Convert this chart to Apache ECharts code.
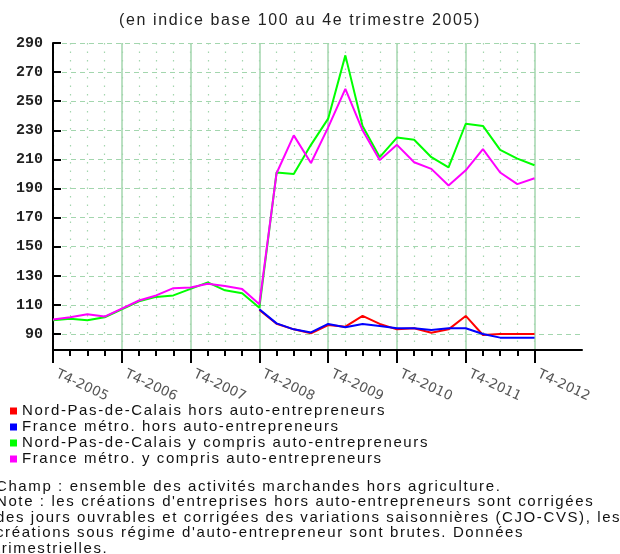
<!DOCTYPE html>
<html><head><meta charset="utf-8">
<script src="https://cdn.jsdelivr.net/npm/echarts@6/dist/echarts.min.js"></script>
<style>html,body{margin:0;padding:0;background:#fff}#c{width:620px;height:554px}</style>
</head><body><div id="c"></div>
<script>
const quarters = ['T4-2005','T1-2006','T2-2006','T3-2006','T4-2006','T1-2007','T2-2007','T3-2007','T4-2007',
  'T1-2008','T2-2008','T3-2008','T4-2008','T1-2009','T2-2009','T3-2009','T4-2009','T1-2010','T2-2010','T3-2010',
  'T4-2010','T1-2011','T2-2011','T3-2011','T4-2011','T1-2012','T2-2012','T3-2012','T4-2012'];
const yTickValues = [90,110,130,150,170,190,210,230,250,270,290];
const seriesNames = ['Nord-Pas-de-Calais hors auto-entrepreneurs','France métro. hors auto-entrepreneurs',
  'Nord-Pas-de-Calais y compris auto-entrepreneurs','France métro. y compris auto-entrepreneurs'];
const npdcHors = [null,null,null,null,null,null,null,null,null,null,null,null,
  106.5,97,93.2,90.5,96.2,95,102.4,96.9,93.2,93.9,90.9,93.2,102.4,89.3,90,90,90];
const franceHors = [null,null,null,null,null,null,null,null,null,null,null,null,
  107,97.3,93.2,91.1,96.9,94.6,96.9,95.5,93.9,93.9,92.7,93.9,93.9,90,87.5,87.5,87.5];
const npdcAvec = [99.5,100.5,99.5,101.5,107,112.5,115.5,116.5,121,125.5,120,118,
  108,201,200,220,238,281.5,233,211.5,225,223.5,211.5,204.5,234.5,233,216.5,210.5,206];
const franceAvec = [100,101.5,103.5,102,107.5,113,116.5,121.5,122,124.5,123,121,
  110.5,200.5,226.5,207.5,232,258.5,230,209.5,220,208,203.5,192,202.5,217,201,193,197];
const colors = ['#ff0000','#0000ff','#00ff00','#ff00ff'];
const titleText = '(en indice base 100 au 4e trimestre 2005)';
const noteText = 'Champ : ensemble des activités marchandes hors agriculture.\nNote : les créations d\'entreprises hors auto-entrepreneurs sont corrigées\ndes jours ouvrables et corrigées des variations saisonnières (CJO-CVS), les\ncréations sous régime d\'auto-entrepreneur sont brutes. Données\ntrimestrielles.';

// widely spaced text, as in the reference (applied to the "Liberation Sans" texts only)
(function(){
  const proto = CanvasRenderingContext2D.prototype;
  const orig = proto.fillText;
  proto.fillText = function(t,x,y,m){
    if ('letterSpacing' in this) this.letterSpacing = /Liberation Sans/.test(this.font) ? '1.6px' : '0px';
    return m === undefined ? orig.call(this,t,x,y) : orig.call(this,t,x,y,m);
  };
})();

const quarterIdx = quarters.map((q,i)=>i);
const yearIdx = quarterIdx.filter(i=>i%4===0);
const xMax = 30.76;

const chart = echarts.init(document.getElementById('c'), null, {renderer:'canvas'});
const mk = arr => arr.map((v,i)=>[i,v]);
const gridColor = '#a3d6ae';
const option = {
  animation:false,
  backgroundColor:'#fff',
  grid:{left:53,right:38,top:43,bottom:204,containLabel:false},
  legend:{
    orient:'vertical', left:10, top:403, padding:0, itemGap:0,
    itemWidth:7, itemHeight:7, icon:'rect',
    textStyle:{fontFamily:'Liberation Sans',fontSize:15,color:'#111',lineHeight:16},
    data:seriesNames
  },
  xAxis:[{
    type:'value', min:0, max:xMax,
    axisLine:{show:true,onZero:false,lineStyle:{color:'#000',width:2}},
    axisTick:{show:true,customValues:quarterIdx,length:6,lineStyle:{color:'#000',width:2}},
    axisLabel:{show:false},
    splitLine:{show:true,lineStyle:{color:gridColor,width:1.2,type:[1.5,7]}}
  },{
    type:'value', min:0, max:xMax, position:'bottom',
    axisLine:{show:false},
    axisTick:{show:true,customValues:yearIdx,length:13,lineStyle:{color:'#000',width:2}},
    axisLabel:{show:true,customValues:yearIdx,rotate:-25,margin:22,padding:[0,0,0,4],
      fontFamily:'DejaVu Sans',fontSize:13.5,color:'#555',
      formatter:v=>quarters[Math.round(v)]},
    splitLine:{show:true,lineStyle:{color:gridColor,width:1.5,type:'solid'}}
  }],
  yAxis:{
    type:'value', min:79, max:290,
    axisLine:{show:true,lineStyle:{color:'#000',width:2}},
    axisTick:{show:true,inside:true,customValues:yTickValues,length:8,lineStyle:{color:'#000',width:2}},
    axisLabel:{customValues:yTickValues,margin:10,fontFamily:'Liberation Mono',fontWeight:'bold',fontSize:15,color:'#222'},
    splitLine:{show:true,lineStyle:{color:gridColor,width:1.2,type:[5,4]}}
  },
  series:[npdcHors,franceHors,npdcAvec,franceAvec].map((arr,k)=>({
    name:seriesNames[k], type:'line', xAxisIndex:0, data:mk(arr),
    showSymbol:false, symbol:'none', connectNulls:false,
    lineStyle:{color:colors[k],width:2}, itemStyle:{color:colors[k]}, z:2+k
  })),
  graphic:[
    {type:'text',x:300,y:21,style:{text:titleText,textAlign:'center',textVerticalAlign:'middle',
      font:'16px "Liberation Sans"',fill:'#222'}},
    {type:'text',left:-4,top:479,style:{text:noteText,
      font:'15px "Liberation Sans"',fill:'#111',lineHeight:15.5}}
  ]
};
chart.setOption(option);
</script></body></html>
